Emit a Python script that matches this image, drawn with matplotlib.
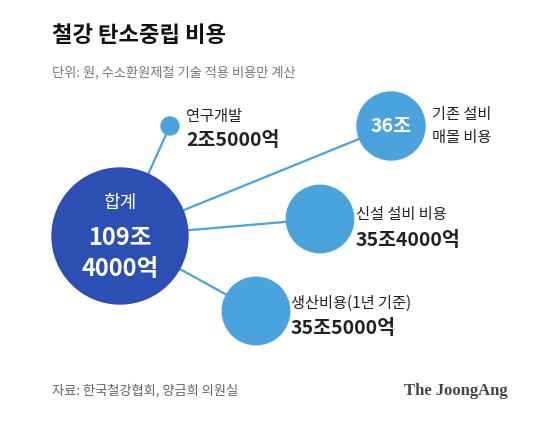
import matplotlib.pyplot as plt
from matplotlib.patches import Circle
import numpy as np

plt.rcParams['font.family'] = ['Noto Sans CJK KR', 'DejaVu Sans']

# values in 억원
items = ["연구개발", "기존 설비\n매몰 비용", "신설 설비 비용", "생산비용(1년 기준)"]
values = [25000, 360000, 354000, 355000]
amount_labels = ["2조5000억", "36조", "35조4000억", "35조5000억"]
total_label = ["합계", "109조", "4000억"]

# layout (pixel coords)
centers = [(170, 126), (391, 126), (320, 219), (256, 311)]
center_main = (120, 236)
r_main = 68
light = "#4aa3dc"
dark = "#2b4fb3"

fig = plt.figure(figsize=(5.6, 4.22), dpi=100)
ax = fig.add_axes([0, 0, 1, 1])
ax.set_xlim(0, 560)
ax.set_ylim(422, 0)
ax.set_aspect('equal')
ax.axis('off')

k = 34 / np.sqrt(360000)
for (cx, cy), v in zip(centers, values):
    ax.plot([center_main[0], cx], [center_main[1], cy], color=light, lw=1.6, zorder=1)
for (cx, cy), v in zip(centers, values):
    ax.add_patch(Circle((cx, cy), max(k * np.sqrt(v), 7), color=light, zorder=2))
ax.add_patch(Circle(center_main, r_main, color=dark, zorder=3))

ax.text(center_main[0], 203, total_label[0], color="white", fontsize=13, ha="center", va="center", zorder=4)
ax.text(center_main[0], 238, total_label[1], color="white", fontsize=17, fontweight="bold", ha="center", va="center", zorder=4)
ax.text(center_main[0], 269, total_label[2], color="white", fontsize=17, fontweight="bold", ha="center", va="center", zorder=4)

# labels
ax.text(186, 117, items[0], fontsize=11, va="center", color="#222222")
ax.text(186, 141, amount_labels[0], fontsize=14, fontweight="bold", va="center", color="#222222")
ax.text(391, 126, amount_labels[1], fontsize=14, fontweight="bold", color="white", ha="center", va="center", zorder=4)
ax.text(432, 126, items[1], fontsize=11, va="center", color="#222222", linespacing=1.5)
ax.text(356, 214, items[2], fontsize=11, va="center", color="#222222")
ax.text(356, 240, amount_labels[2], fontsize=14, fontweight="bold", va="center", color="#222222")
ax.text(291, 303, items[3], fontsize=11, va="center", color="#222222")
ax.text(291, 329, amount_labels[3], fontsize=14, fontweight="bold", va="center", color="#222222")

ax.text(52, 35, "철강 탄소중립 비용", fontsize=16, fontweight="bold", va="center", color="#111111")
ax.text(52, 73, "단위: 원, 수소환원제철 기술 적용 비용만 계산", fontsize=9.5, va="center", color="#777777")
ax.text(52, 391, "자료: 한국철강협회, 양금희 의원실", fontsize=9.5, va="center", color="#666666")
ax.text(508, 391, "The JoongAng", fontsize=12, fontweight="bold", family="Liberation Serif",
        ha="right", va="center", color="#444444")

fig.savefig("out.png", dpi=100)
